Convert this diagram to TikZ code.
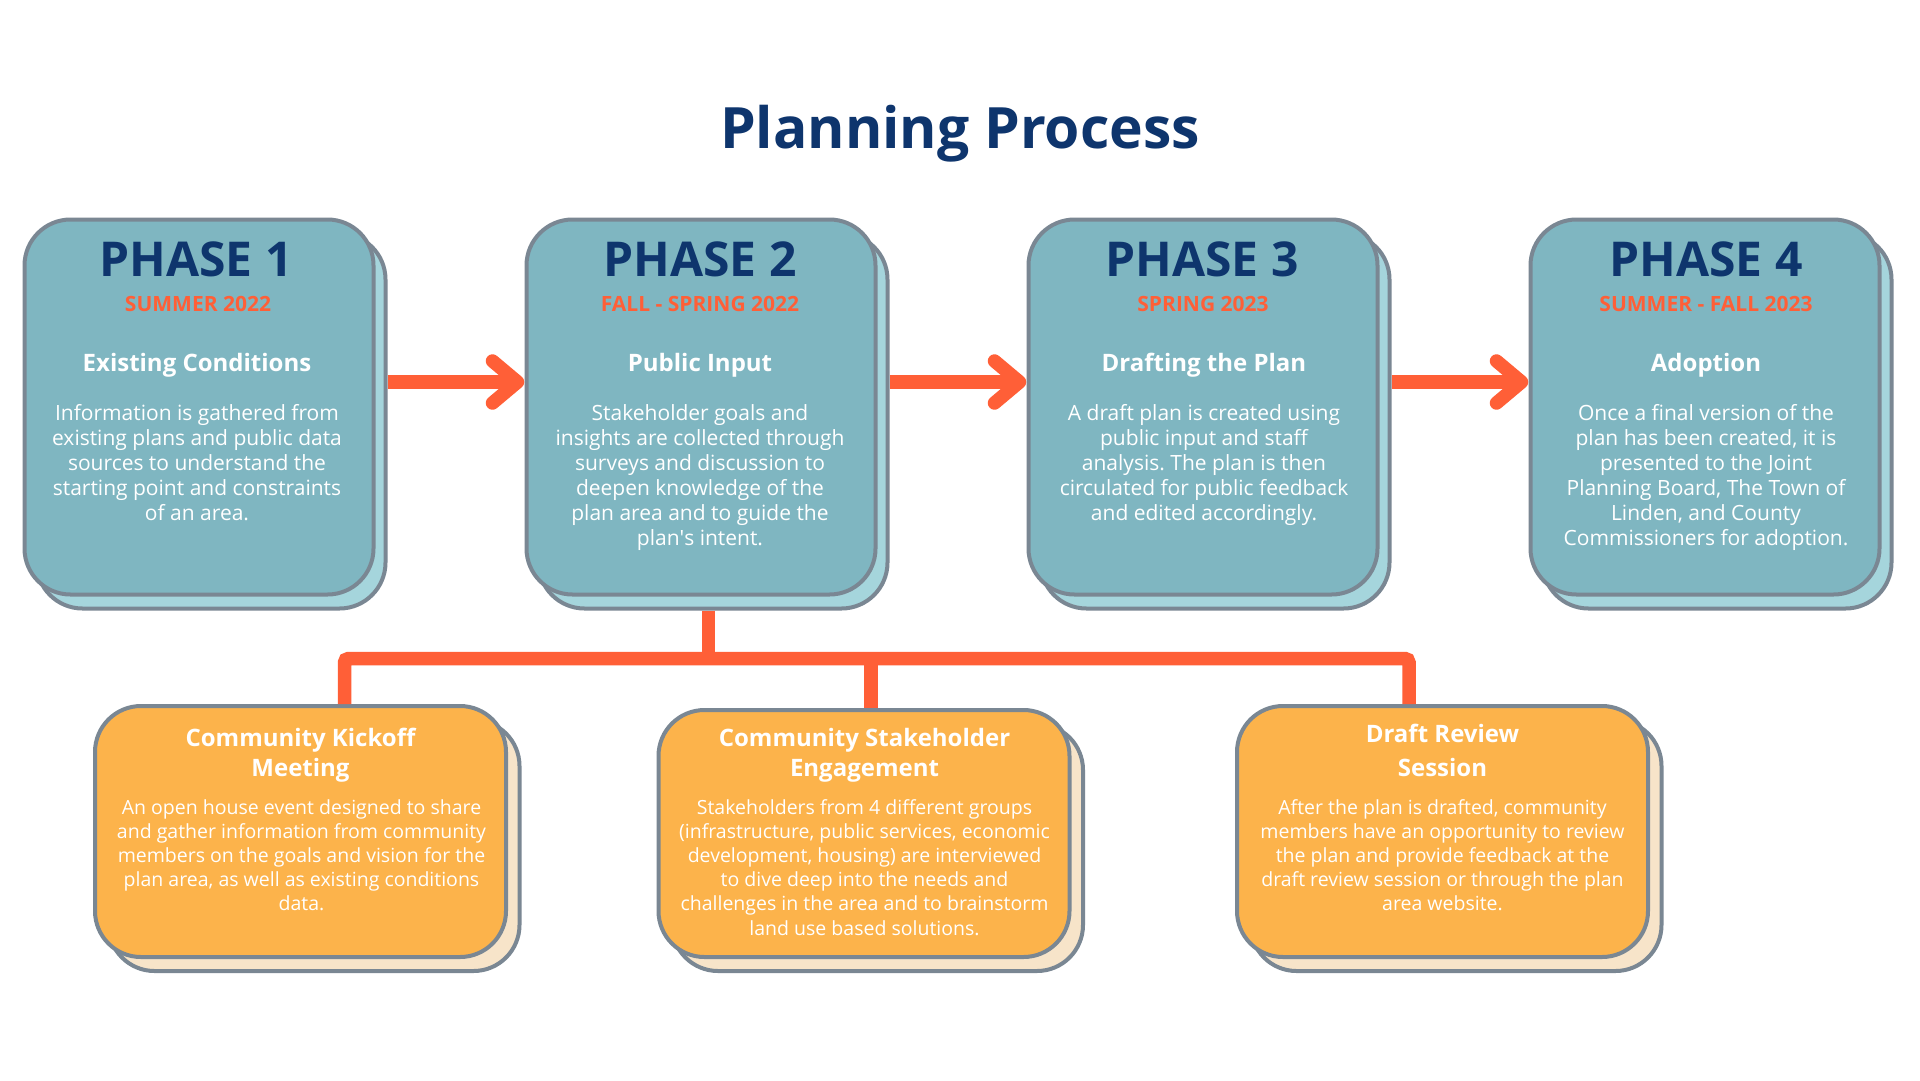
\documentclass[tikz,border=0pt]{standalone}
\usepackage{fontspec}
\setmainfont{Open Sans}
\usetikzlibrary{calc}
\frenchspacing
\definecolor{tealA}{HTML}{7FB6C1}
\definecolor{tealB}{HTML}{A5D5DC}
\definecolor{bord}{HTML}{7A8793}
\definecolor{orng}{HTML}{FF5F37}
\definecolor{cardA}{HTML}{FCB34B}
\definecolor{cardB}{HTML}{F7E4C9}
\definecolor{navy}{HTML}{0E356D}
\newcommand{\mlines}[1]{\begin{tabular}[t]{@{}c@{}}#1\end{tabular}}
\tikzset{
  phaseback/.style={draw=bord, line width=4pt, fill=tealB, rounded corners=46pt,
    minimum width=349pt, minimum height=375pt, inner sep=0pt},
  phasefront/.style={phaseback, fill=tealA},
  cardback/.style={draw=bord, line width=4pt, fill=cardB, rounded corners=46pt,
    minimum width=411pt, minimum height=251pt, inner sep=0pt},
  cardfront/.style={cardback, fill=cardA},
  flow/.style={draw=orng, line width=13.5pt},
  chev/.style={draw=orng, line width=13.5pt, line cap=round, line join=round},
  phasehead/.style={anchor=base, inner sep=0pt, text=navy, font=\bfseries\fontsize{48}{56}\selectfont},
  phasedate/.style={anchor=base, inner sep=0pt, text=orng, font=\bfseries\fontsize{21}{25}\selectfont},
  phasetitle/.style={anchor=base, inner sep=0pt, text=white, font=\bfseries\fontsize{24}{30}\selectfont},
  phasebody/.style={anchor=base, inner sep=0pt, text=white, font=\fontsize{21}{25.1}\selectfont},
  cardtitle/.style={anchor=base, inner sep=0pt, text=white, font=\bfseries\fontsize{24}{30.5}\selectfont},
  cardbody/.style={anchor=base, inner sep=0pt, text=white, font=\fontsize{19.5}{24.2}\selectfont},
}
\begin{document}
\begin{tikzpicture}[x=1pt,y=-1pt]
\useasboundingbox (0,0) rectangle (1920,1080);
\fill[white] (0,0) rectangle (1920,1080);

% title
\node[anchor=base, inner sep=0pt, text=navy, font=\bfseries\fontsize{57}{64}\selectfont] (title) at (960,148) {Planning Process};

% phase boxes
\node[phaseback]  (p1b) at (211,421) {};
\node[phasefront] (p1)  at (199,407) {};
\node[phaseback]  (p2b) at (713,421) {};
\node[phasefront] (p2)  at (701,407) {};
\node[phaseback]  (p3b) at (1215,421) {};
\node[phasefront] (p3)  at (1203,407) {};
\node[phaseback]  (p4b) at (1717,421) {};
\node[phasefront] (p4)  at (1705,407) {};

% phase texts
\node[phasehead] (h1) at (196,276) {PHASE 1};
\node[phasedate] (d1) at (198,311.5) {SUMMER 2022};
\node[phasetitle] (t1) at (197,371) {Existing Conditions};
\node[phasebody] (b1) at (197,420) {\mlines{Information is gathered from\\existing plans and public data\\sources to understand the\\starting point and constraints\\of an area.}};

\node[phasehead] (h2) at (700,276) {PHASE 2};
\node[phasedate] (d2) at (700,311.5) {FALL - SPRING 2022};
\node[phasetitle] (t2) at (700,371) {Public Input};
\node[phasebody] (b2) at (700,420) {\mlines{Stakeholder goals and\\insights are collected through\\surveys and discussion to\\deepen knowledge of the\\plan area and to guide the\\plan\textquotesingle s intent.}};

\node[phasehead] (h3) at (1202,276) {PHASE 3};
\node[phasedate] (d3) at (1203,311.5) {SPRING 2023};
\node[phasetitle] (t3) at (1204,371) {Drafting the Plan};
\node[phasebody] (b3) at (1204,420) {\mlines{A draft plan is created using\\public input and staff\\analysis. The plan is then\\circulated for public feedback\\and edited accordingly.}};

\node[phasehead] (h4) at (1706,276) {PHASE 4};
\node[phasedate] (d4) at (1706,311.5) {SUMMER - FALL 2023};
\node[phasetitle] (t4) at (1706,371) {Adoption};
\node[phasebody] (b4) at (1706,420) {\mlines{Once a final version of the\\plan has been created, it is\\presented to the Joint\\Planning Board, The Town of\\Linden, and County\\Commissioners for adoption.}};

% arrows between phases
\coordinate (ay) at (0,382);
\coordinate (tip2) at ($(p2.west |- ay)+(-7,0)$);
\coordinate (tip3) at ($(p3.west |- ay)+(-7,0)$);
\coordinate (tip4) at ($(p4.west |- ay)+(-7,0)$);
\draw[flow] (p1b.east |- ay) -- (tip2);
\draw[chev] ($(tip2)+(-25,-21)$) -- (tip2) -- ($(tip2)+(-25,21)$);
\draw[flow] (p2b.east |- ay) -- (tip3);
\draw[chev] ($(tip3)+(-25,-21)$) -- (tip3) -- ($(tip3)+(-25,21)$);
\draw[flow] (p3b.east |- ay) -- (tip4);
\draw[chev] ($(tip4)+(-25,-21)$) -- (tip4) -- ($(tip4)+(-25,21)$);

% bus connectors
\coordinate (busL) at (344.5,658.5);
\coordinate (busM) at (708.5,658.5);
\coordinate (busC) at (871,658.5);
\coordinate (busR) at (1409,658.5);

% cards
\node[cardback]  (c1b) at (314,845.5) {};
\node[cardfront] (c1)  at (300.5,831.5) {};
\node[cardback, minimum height=247pt]  (c2b) at (877.5,847.5) {};
\node[cardfront, minimum height=247pt] (c2)  at (864,833.5) {};
\node[cardback]  (c3b) at (1456,845.5) {};
\node[cardfront] (c3)  at (1442.5,831.5) {};

\draw[flow] (p2b.south -| busM) -- (busM);
\draw[flow, rounded corners=4pt] (c1.north -| busL) -- (busL) -- (busR) -- (c3.north -| busR);
\draw[flow] (busC) -- (c2.north -| busC);

% card texts
\node[cardtitle] (ct1) at (300.5,746) {\mlines{Community Kickoff\\Meeting}};
\node[cardbody] (cb1) at (301.5,814) {\mlines{An open house event designed to share\\and gather information from community\\members on the goals and vision for the\\plan area, as well as existing conditions\\data.}};

\node[cardtitle] (ct2) at (864.5,746) {\mlines{Community Stakeholder\\Engagement}};
\node[cardbody] (cb2) at (864.5,814) {\mlines{Stakeholders from 4 different groups\\(infrastructure, public services, economic\\development, housing) are interviewed\\to dive deep into the needs and\\challenges in the area and to brainstorm\\land use based solutions.}};

\node[cardtitle, font=\bfseries\fontsize{24}{33.6}\selectfont] (ct3) at (1442.5,742.5) {\mlines{Draft Review\\Session}};
\node[cardbody] (cb3) at (1442.5,814) {\mlines{After the plan is drafted, community\\members have an opportunity to review\\the plan and provide feedback at the\\draft review session or through the plan\\area website.}};
\end{tikzpicture}
\end{document}
